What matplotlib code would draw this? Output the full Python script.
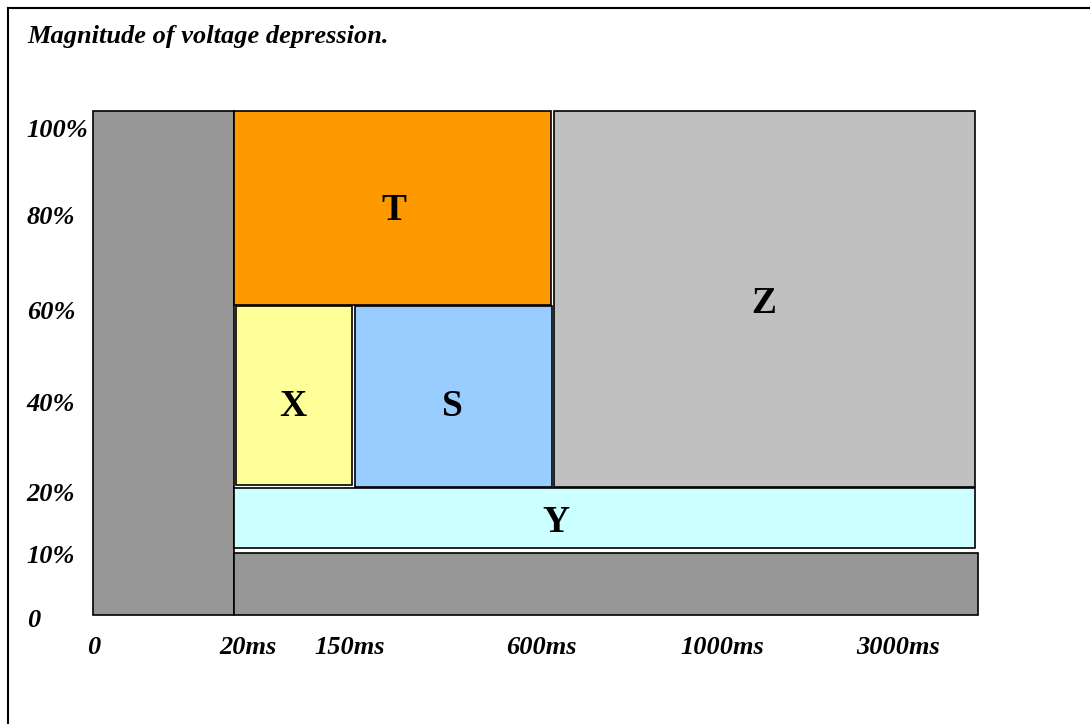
import matplotlib.pyplot as plt
from matplotlib.lines import Line2D

# zones of the diagram, in % of plot width / height
zone_labels = ["", "T", "Z", "X", "S", "Y", ""]
zone_x0 = [0.0, 15.9, 52.1, 16.2, 29.6, 15.9, 15.9]
zone_x1 = [15.9, 51.8, 99.7, 29.3, 51.9, 99.7, 100.0]
zone_y0 = [0.0, 61.5, 25.4, 25.8, 25.4, 13.3, 0.0]
zone_y1 = [100.0, 100.0, 100.0, 61.3, 61.3, 25.2, 12.3]
zone_colors = ["#969696", "#FF9900", "#C0C0C0", "#FFFF99", "#99CCFF", "#CCFFFF", "#969696"]
label_x = [0, 34.0, 75.8, 22.6, 40.6, 52.3, 0]
label_y = [0, 80.2, 61.9, 41.4, 41.3, 18.4, 0]

ytick_labels = ["0", "10%", "20%", "40%", "60%", "80%", "100%"]
ytick_pos = [-1.0, 11.7, 24.0, 41.7, 60.1, 78.8, 96.2]
xtick_labels = ["0", "20ms", "150ms", "600ms", "1000ms", "3000ms"]
xtick_pos = [0.1, 17.5, 29.0, 50.7, 71.1, 91.0]

W, H = 1090, 724
fig = plt.figure(figsize=(W / 100, H / 100), dpi=100)
plt.rcParams['font.family'] = ['Liberation Serif', 'DejaVu Serif']

ax = fig.add_axes([93 / W, (H - 615) / H, 885 / W, 504 / H])
ax.set_xlim(0, 100)
ax.set_ylim(0, 100)
ax.axis('off')

widths = [b - a for a, b in zip(zone_x0, zone_x1)]
heights = [b - a for a, b in zip(zone_y0, zone_y1)]
ax.bar(zone_x0, heights, width=widths, bottom=zone_y0, align='edge',
       color=zone_colors, edgecolor='black', linewidth=1.2, clip_on=False)

for lab, x, y in zip(zone_labels, label_x, label_y):
	if lab:
		ax.text(x, y, lab, ha='center', va='center', fontsize=27, fontweight='bold')

tick_font = dict(fontsize=19, fontweight='bold', fontstyle='italic')
for lab, y in zip(ytick_labels, ytick_pos):
	ax.text(-7.5, y, lab, ha='left', va='center', clip_on=False, **tick_font)
for lab, x in zip(xtick_labels, xtick_pos):
	ax.text(x, -6.5, lab, ha='center', va='center', clip_on=False, **tick_font)

fig.text(27 / W, 1 - 36 / H, "Magnitude of voltage depression.", ha='left', va='center', **tick_font)

# outer frame (only top and left edges visible)
fx, fy = 7.5 / W, 1 - 7.5 / H
fig.add_artist(Line2D([fx, fx], [0, fy], color='black', linewidth=1.5))
fig.add_artist(Line2D([fx, 1], [fy, fy], color='black', linewidth=1.5))

fig.savefig("out.png", dpi=100)
